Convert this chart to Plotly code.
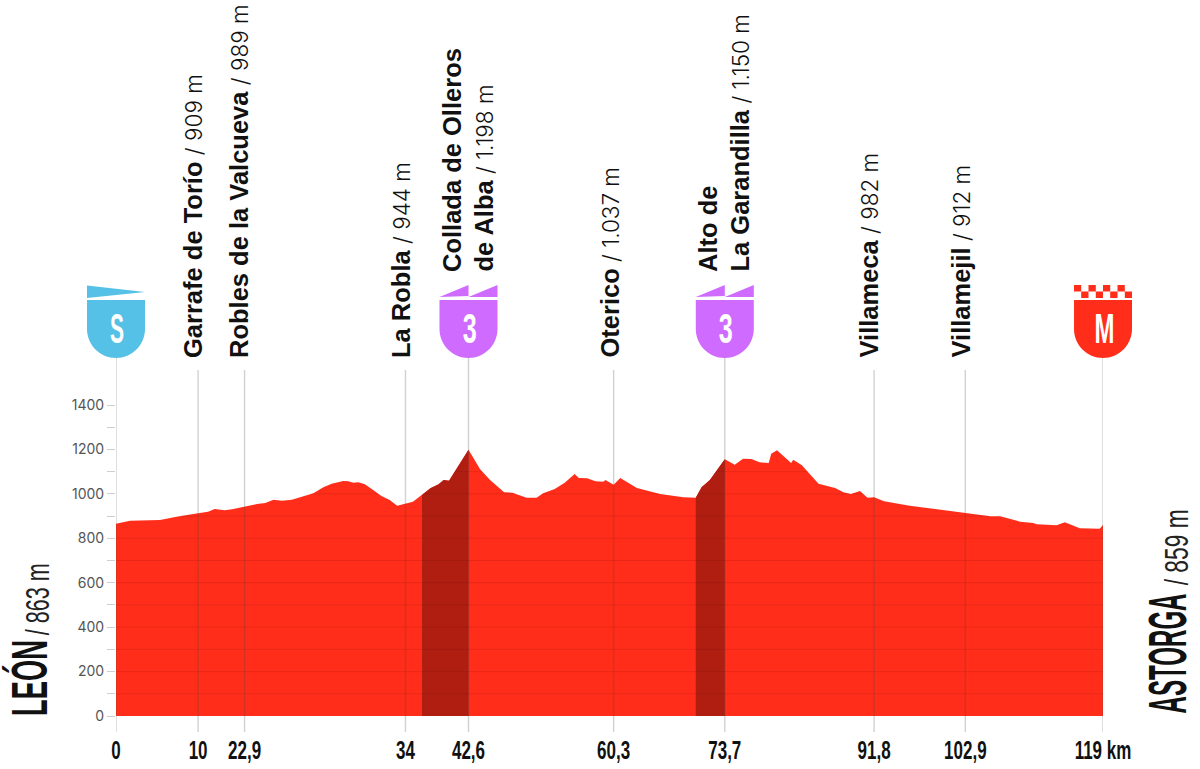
import numpy as np
import plotly.graph_objects as go

# Profile
km = [0,1.7,5.3,7.3,9.9,11.1,11.9,13.1,14,15.5,17,18,19,20,21.2,23.8,25,26,27.4,28,28.6,29.2,30,31,32,33,33.9,
      35.8,36.9,37.9,38.9,39.5,40.15,42.5,43.9,45.1,46.8,47.8,49.5,50.7,51.5,52.9,54.1,55.3,55.8,56.8,57.8,58.75,59,60,60.8,61.6,62.8,65.6,68.4,69.9,
      70.6,71.6,73.4,74.6,75.6,76.6,77.6,78.7,79,79.7,80.7,81.4,81.65,82.7,84.7,86.7,87.7,88.6,89.7,90.6,91.4,92.6,95.7,98.1,102.4,105.4,106.6,109,110.6,111,113.4,114.4,116.2,118.6,119]
elev = [865,879,882,897,913,920,932,926,931,944,954,959,974,969,974,1003,1030,1046,1058,1057,1050,1052,1043,1017,990,972,947,
        965,995,1025,1043,1062,1059,1198,1111,1062,1007,1005,983,983,1003,1022,1050,1089,1071,1070,1057,1055,1062,1041,1071,1053,1026,999,985,983,
        1030,1062,1156,1131,1158,1157,1142,1139,1180,1196,1163,1139,1154,1129,1046,1026,1007,999,1013,983,985,967,947,935,916,899,899,875,869,863,859,872,845,843,860]

climbs = [(36.9, 42.5), (69.9, 73.4)]

# km scale as drawn, and the printed labels
tick_km = [0, 9.9, 15.5, 34.9, 42.5, 60.0, 73.4, 91.4, 102.4, 119]
tick_text = ["0", "10", "22,9", "34", "42,6", "60,3", "73,7", "91,8", "102,9", "119 km"]
badge_km = [0, 42.5, 73.4, 119]
badge_text = ["S", "3", "3", "M"]
badge_kind = ["start", "climb", "climb", "finish"]
y_ticks = [0, 200, 400, 600, 800, 1000, 1200, 1400]

# name, rest, centre pixel x, bottom pixel y
labels = [
    ("Garrafe de Torío", " / 909 m", 193, 358),
    ("Robles de la Valcueva", " / 989 m", 239, 358),
    ("La Robla", " / 944 m", 401, 358),
    ("Collada de Olleros", "", 452, 272),
    ("de Alba", " / 1.198 m", 483, 272),
    ("Oterico", " / 1.037 m", 609, 358),
    ("Alto de", "", 708, 272),
    ("La Garandilla", " / 1.150 m", 739, 272),
    ("Villameca", " / 982 m", 868, 358),
    ("Villamejil", " / 912 m", 960, 358),
]

RED = "#ff2d1a"
DARK = "#b01e12"
BLUE = "#56c1e6"
PURPLE = "#cf6bff"
GREY = "#cfcfcf"
M_PER_PX = 1400 / 311
PLOT_TOP = 716 * M_PER_PX

def px(x):
    return (x - 116) / (1103 - 116)

def py(y):
    return (716 - y) / 716

km_a = np.array(km, float)
el_a = np.array(elev, float)

fig = go.Figure()
fig.add_trace(go.Scatter(x=km, y=elev, mode="lines", fill="tozeroy", fillcolor=RED,
                         line=dict(color=RED, width=0), hoverinfo="skip", showlegend=False))
for a, b in climbs:
    m = (km_a >= a) & (km_a <= b)
    fig.add_trace(go.Scatter(x=km_a[m], y=el_a[m], mode="lines", fill="tozeroy", fillcolor=DARK,
                             line=dict(color=DARK, width=0), hoverinfo="skip", showlegend=False))

# horizontal rules, only inside the profile
gx, gy = [], []
for lev in range(100, 1200, 100):
    s = el_a - lev
    pts = [km_a[0]] if s[0] > 0 else []
    for i in range(len(s) - 1):
        if s[i] * s[i + 1] < 0:
            pts.append(km_a[i] + (km_a[i + 1] - km_a[i]) * s[i] / (s[i] - s[i + 1]))
    if s[-1] > 0:
        pts.append(km_a[-1])
    for p, q in zip(pts[0::2], pts[1::2]):
        gx += [p, q, None]
        gy += [lev, lev, None]
fig.add_trace(go.Scatter(x=gx, y=gy, mode="lines", line=dict(color="rgba(90,0,0,0.13)", width=1),
                         hoverinfo="skip", showlegend=False))

shapes = []
for k in tick_km:
    top = 358 if k in badge_km else 370
    shapes.append(dict(type="line", xref="x", yref="paper", x0=k, x1=k, y0=py(732), y1=py(top),
                       line=dict(color="rgba(70,70,70,0.25)", width=1.4), layer="above"))

BODY = "M-29,58 L29,58 L29,29 C29,13 16,0 0,0 C-16,0 -29,13 -29,29 Z"
for k, kind in zip(badge_km, badge_kind):
    col = {"start": BLUE, "climb": PURPLE, "finish": RED}[kind]
    path = BODY
    if kind == "start":
        path += " M-29,72.5 L29,66 L-29,60 Z"
    elif kind == "climb":
        path += " M-29,61 L0,73 L0,62 Z M0,61 L29,73 L29,61 Z"
    else:
        w = 58 / 8
        for c in range(8):
            y0 = 66.5 if c % 2 == 0 else 60
            x0 = -29 + c * w
            path += f" M{x0:.1f},{y0} L{x0 + w:.1f},{y0} L{x0 + w:.1f},{y0 + 6.5} L{x0:.1f},{y0 + 6.5} Z"
    shapes.append(dict(type="path", xsizemode="pixel", ysizemode="pixel", xref="paper", yref="paper",
                       xanchor=k / 119, yanchor=py(358), path=path,
                       fillcolor=col, line=dict(width=0), layer="above"))

ann = []
def add(text, x, y, size, family, color="#111", angle=-90, xa="center", ya="middle"):
    ann.append(dict(text=text, xref="paper", yref="paper", x=px(x), y=py(y), xanchor=xa, yanchor=ya,
                    showarrow=False, textangle=angle, font=dict(size=size, family=family, color=color),
                    borderpad=0, borderwidth=0))

for name, rest, x, bottom in labels:
    t = f"<b>{name}</b>"
    if rest:
        t += f'<span style="font-family:Inter;font-weight:300;font-size:22.5px">{rest}</span>'
    add(t, x, bottom, 25.5, "Liberation Sans", "#111", ya="bottom")

SANS = "Liberation Sans"
for k, s in zip(badge_km, badge_text):
    add(f"<b>{s}</b>", 116 + k * (987 / 119) + 1, 328, 42, SANS, "#fff", angle=0)

add("<b>LEÓN</b>", 29.5, 678, 50, SANS)
add("/ 863 m", 37, 600, 34, SANS, "#222")
add("<b>ASTORGA</b>", 1167, 654, 54, SANS)
add("/ 859 m", 1176, 548, 34, SANS, "#222")
fig.update_layout(shapes=shapes, annotations=ann)

fig.update_layout(
    width=1200, height=769, margin=dict(l=116, r=97, t=0, b=53),
    plot_bgcolor="white", paper_bgcolor="white", showlegend=False,
    xaxis=dict(range=[0, 119], tickmode="array", tickvals=tick_km, ticktext=[f"<b>{t}</b>" for t in tick_text], ticks="outside",
               ticklen=12, tickcolor="rgba(0,0,0,0)", showgrid=False, zeroline=False, showline=False,
               tickfont=dict(family=SANS, size=25, color="#111"), tickangle=0),
    yaxis=dict(range=[0, PLOT_TOP], tickmode="array", tickvals=y_ticks, ticks="outside", ticklen=8,
               tickcolor=GREY, showgrid=False, zeroline=False, showline=False,
               minor=dict(tickmode="array", tickvals=[100, 300, 500, 700, 900, 1100, 1300],
                          ticks="outside", ticklen=8, tickcolor=GREY),
               tickfont=dict(family="Inter", size=14, color="#555")),
)

# Condense the display lettering to the reference's tall narrow proportions
post = """
document.body.style.margin='0';
var f={'LEÓN':76,'ASTORGA':120,'/ 863 m':72,'/ 859 m':76,'S':14,'3':14,'M':20};
document.querySelectorAll('.annotation-text').forEach(function(t){
  var s=t.textContent; if(f[s]){t.setAttribute('textLength',f[s]);t.setAttribute('lengthAdjust','spacingAndGlyphs');}
});
document.querySelectorAll('.xtick text').forEach(function(t){
  var l=t.getComputedTextLength(); t.setAttribute('textLength',l*0.68);t.setAttribute('lengthAdjust','spacingAndGlyphs');
});
"""
fig.write_html("out.html", post_script=post, config=dict(displayModeBar=False))
